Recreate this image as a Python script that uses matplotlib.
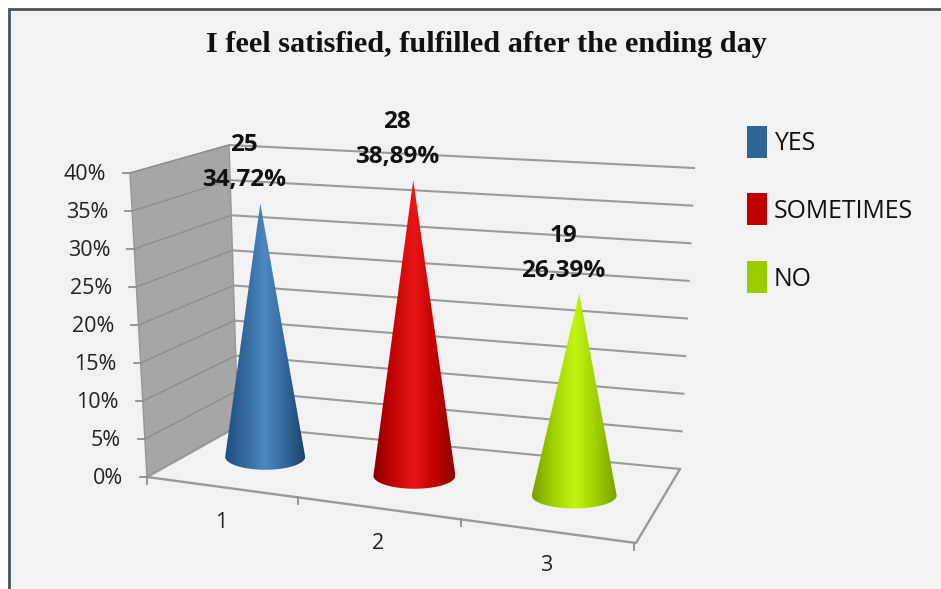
import numpy as np
import matplotlib
matplotlib.use("Agg")
import matplotlib.pyplot as plt
from matplotlib.colors import LinearSegmentedColormap
from matplotlib.patches import Polygon, Rectangle

TITLE = "I feel satisfied, fulfilled after the ending day"
series = ["YES", "SOMETIMES", "NO"]
categories = ["1", "2", "3"]
counts = [25, 28, 19]
percents = [34.72, 38.89, 26.39]
y_ticks = [0, 5, 10, 15, 20, 25, 30, 35, 40]

legend_colors = ["#2f6496", "#c00000", "#9bcc00"]
shades = [["#1f4f7c", "#33699c", "#4c88c0", "#33699c", "#1b4267"],
          ["#8a0000", "#c40505", "#e81616", "#c40000", "#8c0000"],
          ["#7c9e00", "#a0d000", "#c2f514", "#a0d000", "#7e9f00"]]

W, H = 941, 589
fig = plt.figure(figsize=(W / 100, H / 100), dpi=100, facecolor="white")
ax = fig.add_axes([0, 0, 1, 1])
ax.set_xlim(0, W)
ax.set_ylim(H, 0)
ax.axis("off")

# frame
ax.add_patch(Rectangle((9, 9), W, H, fc="#f2f2f2", ec="#46555c", lw=2, zorder=0))

# 3-D scene: corners of the floor and wall, in screen pixels
FL, FR, BR, BL = (147, 477), (636, 543), (680, 469), (238, 426)
WALL_FRONT_TOP, WALL_BACK_TOP, BACK_RIGHT_TOP = (130, 173), (229, 145), (694, 168)


def lerp(a, b, t):
    return (a[0] + (b[0] - a[0]) * t, a[1] + (b[1] - a[1]) * t)


def floor_xy(u, w):
    """u: 0..3 along categories, w: 0 (front)..1 (back)."""
    s = 0.298 * u + 0.0113 * u * u
    return lerp(lerp(FL, FR, s), lerp(BL, BR, s), w)


top = max(y_ticks)
# left wall
ax.add_patch(Polygon([FL, BL, WALL_BACK_TOP, WALL_FRONT_TOP], fc="#a6a6a6", ec="#969696", lw=1, zorder=1))
for v in y_ticks:
    t = v / top
    f = lerp(FL, WALL_FRONT_TOP, t)
    b = lerp(BL, WALL_BACK_TOP, t)
    r = lerp(BR, BACK_RIGHT_TOP, t)
    if v:
        ax.plot([f[0], b[0]], [f[1], b[1]], color="#8f8f8f", lw=1.1, zorder=2)
    ax.plot([b[0], r[0]], [b[1], r[1]], color="#9a9a9a", lw=1.5, zorder=2)
    ax.plot([f[0] - 7, f[0]], [f[1], f[1]], color="#8f8f8f", lw=1.3, zorder=2)
    ax.text(f[0] - 24, f[1] + 2, f"{v}%", ha="right", va="center", fontsize=15.5,
            family="Open Sans", color="#222222")

# floor outline
ax.plot([BL[0], FL[0], FR[0], BR[0]], [BL[1], FL[1], FR[1], BR[1]], color="#999999", lw=1.7, zorder=2)
for u in range(4):
    x, y = floor_xy(u, 0)
    ax.plot([x, x], [y, y + 7], color="#8f8f8f", lw=1.3, zorder=2)

# category labels
for i, c in enumerate(categories):
    x, y = floor_xy(i + 0.5, 0)
    ax.text(x, y + 35, c, ha="center", va="center", fontsize=15.5, family="Open Sans", color="#222222")

# cones
R = [40, 41, 42.5]
BASE_DY = [-3, -1.5, -0.5]
LEAN = [(-0.14, -7.3), (-0.03, -7.6), (0.19, -7.65)]
for i, v in enumerate(percents):
    cx, cy = floor_xy(i + 0.5, 0.5)
    cx += 2
    cy += BASE_DY[i]
    tip = (cx + LEAN[i][0] * v, cy + LEAN[i][1] * v)
    th = np.linspace(np.pi, 0, 60)
    ex = cx + R[i] * np.cos(th)
    ey = cy + 13 * np.sin(th)
    poly = Polygon(np.r_[[tip], np.c_[ex, ey]], closed=True, fc="none", ec="none", zorder=3)
    ax.add_patch(poly)
    cmap = LinearSegmentedColormap.from_list(f"c{i}", shades[i])
    im = ax.imshow(np.linspace(0, 1, 256)[None, :], cmap=cmap, aspect="auto", zorder=3,
                   extent=(cx - R[i], cx + R[i], cy + 14, tip[1]))
    im.set_clip_path(poly)
    ax.text(tip[0] - 16, tip[1] - 58, f"{counts[i]}", ha="center", va="center", fontsize=17.5,
            fontweight="bold", family="Open Sans", color="#111111", zorder=5)
    ax.text(tip[0] - 16, tip[1] - 23, f"{v:.2f}%".replace(".", ","), ha="center", va="center", fontsize=17.5,
            fontweight="bold", family="Open Sans", color="#111111", zorder=5)
ax.set_xlim(0, W)
ax.set_ylim(H, 0)

# legend
for s, col, yc in zip(series, legend_colors, [142, 209, 277]):
    ax.add_patch(Rectangle((747, yc - 16), 20, 32, fc=col, ec="none", zorder=3))
    ax.text(774, yc + 2, s, ha="left", va="center", fontsize=17.9, family="Open Sans", color="#111111")

ax.text(486, 44, TITLE, ha="center", va="center", fontsize=21.8, fontweight="bold",
        family="Liberation Serif", color="#111111")

fig.savefig("out.png", dpi=100, facecolor="white")
